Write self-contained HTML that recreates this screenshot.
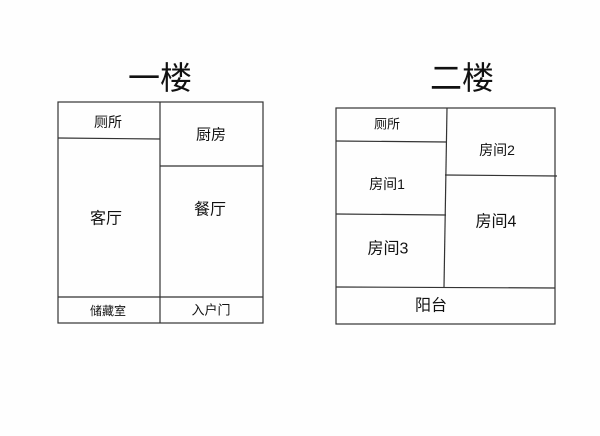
<!DOCTYPE html>
<html><head><meta charset="utf-8"><style>
html,body{margin:0;padding:0;background:#fff;}
svg{display:block}
text{font-family:"Liberation Sans","Noto Sans CJK SC",sans-serif;fill:#111;text-anchor:middle;dominant-baseline:central}
</style></head><body>
<svg width="600" height="436" viewBox="0 0 600 436">
<rect width="600" height="436" fill="#fefefe"/>
<g stroke="#333" stroke-width="1.2" fill="none">
<rect x="58" y="102" width="205" height="221"/>
<line x1="160" y1="102" x2="160" y2="323"/>
<line x1="58" y1="138" x2="160" y2="139"/>
<line x1="160" y1="166" x2="263" y2="166"/>
<line x1="58" y1="297" x2="263" y2="297"/>
<rect x="336" y="108" width="219" height="216"/>
<line x1="447" y1="108" x2="444" y2="287"/>
<line x1="336" y1="141" x2="447" y2="142"/>
<line x1="336" y1="214" x2="446" y2="215"/>
<line x1="445" y1="175" x2="557" y2="176"/>
<line x1="336" y1="287" x2="555" y2="288"/>
</g>
<text x="160" y="78" font-size="32">一楼</text>
<text x="462" y="78" font-size="32">二楼</text>
<text x="108" y="122" font-size="14">厕所</text>
<text x="211" y="135" font-size="15">厨房</text>
<text x="106" y="219" font-size="16">客厅</text>
<text x="210" y="210" font-size="16">餐厅</text>
<text x="108" y="311" font-size="12">储藏室</text>
<text x="211" y="310" font-size="13">入户门</text>
<text x="387" y="124" font-size="13">厕所</text>
<text x="497" y="150" font-size="14">房间2</text>
<text x="387" y="184" font-size="14">房间1</text>
<text x="388" y="249" font-size="16">房间3</text>
<text x="496" y="222" font-size="16">房间4</text>
<text x="431" y="306" font-size="16">阳台</text>
</svg>
</body></html>
